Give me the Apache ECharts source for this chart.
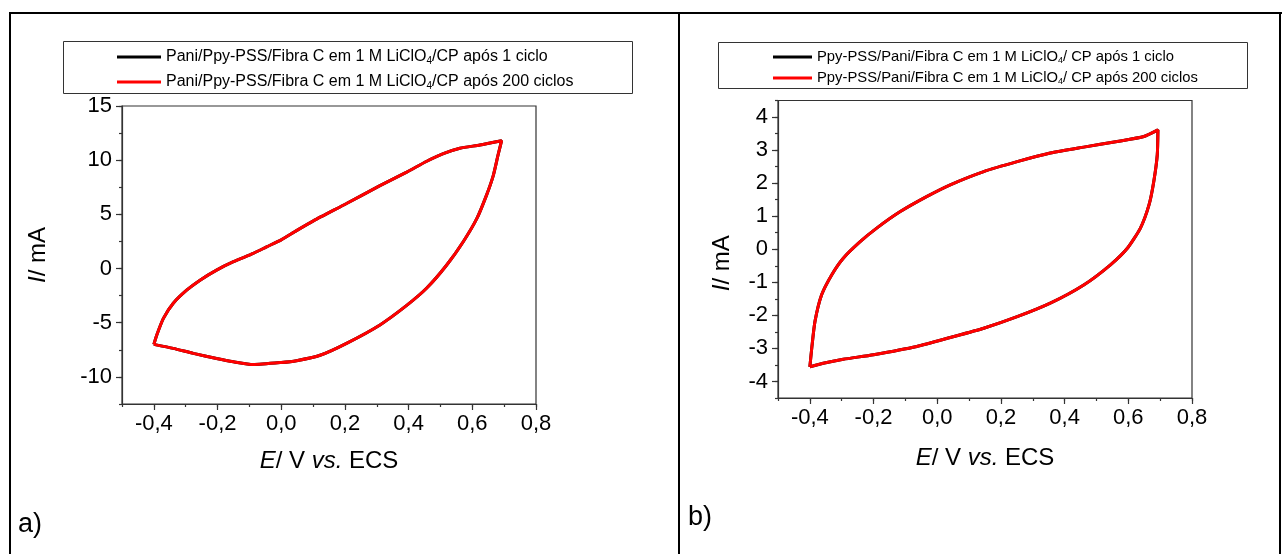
<!DOCTYPE html>
<html>
<head>
<meta charset="utf-8">
<script src="https://cdn.jsdelivr.net/npm/echarts@6/dist/echarts.min.js"></script>
<style>
html,body{margin:0;padding:0;background:#fff;}
#chart{width:1282px;height:554px;}
</style>
</head>
<body>
<div id="chart"></div>
<script>
// ---------- data ----------
// Panel a) Pani/Ppy-PSS/Fibra C : closed CV loop, E in V, I in mA
const aE = [-0.40, -0.391, -0.370, -0.339, -0.297, -0.255, -0.203, -0.150, -0.088, -0.046, 0.000, 0.048, 0.101, 0.205, 0.310, 0.394, 0.457, 0.509, 0.561, 0.624, 0.692,
            0.681, 0.666, 0.645, 0.614, 0.572, 0.519, 0.457, 0.394, 0.310, 0.205, 0.122, 0.048, 0.000, -0.088, -0.150, -0.203, -0.276, -0.339, -0.40];
const aI = [-7.0, -6.15, -4.6, -3.2, -2.0, -1.07, -0.14, 0.63, 1.4, 2.0, 2.65, 3.5, 4.4, 6.0, 7.65, 8.9, 9.9, 10.6, 11.1, 11.4, 11.8,
            10.5, 8.6, 6.8, 4.6, 2.5, 0.3, -1.8, -3.4, -5.2, -6.9, -8.0, -8.5, -8.67, -8.86, -8.6, -8.3, -7.83, -7.37, -7.0];
// Panel b) Ppy-PSS/Pani/Fibra C
const bE = [-0.40, -0.394, -0.384, -0.363, -0.331, -0.295, -0.242, -0.190, -0.116, -0.032, 0.041, 0.146, 0.251, 0.355, 0.460, 0.565, 0.649, 0.693,
            0.691, 0.680, 0.665, 0.638, 0.597, 0.544, 0.460, 0.355, 0.251, 0.146, 0.041, -0.064, -0.200, -0.295, -0.358, -0.40];
const bI = [-3.56, -2.99, -2.19, -1.38, -0.77, -0.27, 0.23, 0.64, 1.14, 1.6, 1.95, 2.35, 2.65, 2.91, 3.09, 3.26, 3.41, 3.61,
            2.86, 2.05, 1.34, 0.64, 0.03, -0.47, -1.08, -1.63, -2.04, -2.39, -2.67, -2.94, -3.19, -3.33, -3.45, -3.56];

const seriesNamesA = ['Pani/Ppy-PSS/Fibra C em 1 M LiClO4/CP após 1 ciclo', 'Pani/Ppy-PSS/Fibra C em 1 M LiClO4/CP após 200 ciclos'];
const seriesNamesB = ['Ppy-PSS/Pani/Fibra C em 1 M LiClO4/ CP após 1 ciclo', 'Ppy-PSS/Pani/Fibra C em 1 M LiClO4/ CP após 200 ciclos'];

const xTickLabels = [-0.4, -0.2, 0.0, 0.2, 0.4, 0.6, 0.8];
const yTickLabelsA = [-10, -5, 0, 5, 10, 15];
const yTickLabelsB = [-4, -3, -2, -1, 0, 1, 2, 3, 4];
const panelLabels = ['a)', 'b)'];

// ---------- styling / layout ----------
const FONT = '"Liberation Sans", Arial, Helvetica, sans-serif';
const AXC = '#333';
const zip = (xs, ys) => xs.map((x, i) => [x, ys[i]]);
const fmtX = v => (Math.abs(v) < 1e-9 ? 0 : v).toFixed(1).replace('.', ',');

const gridA = {left: 122, top: 106, width: 414, height: 298};
const gridB = {left: 778, top: 100.5, width: 414, height: 297.5};

function gridOf(r, show) {
  return Object.assign({show: show, borderColor: AXC, borderWidth: 1.2, backgroundColor: 'transparent', containLabel: false, outerBoundsMode: 'none'}, r);
}
function mainX(g, nameGap) {
  return {
    type: 'value', gridIndex: g, min: -0.5, max: 0.8, interval: 0.1, position: 'bottom',
    axisLine: {show: true, onZero: false, lineStyle: {color: AXC, width: 1.2}},
    axisTick: {show: true, length: 3, lineStyle: {color: AXC, width: 1.2}},
    axisLabel: {customValues: xTickLabels, formatter: fmtX, margin: 9, fontSize: 22, color: '#000', fontFamily: FONT},
    splitLine: {show: false},
    name: '{i|E}/ V {i|vs.} ECS', nameLocation: 'middle', nameGap: nameGap,
    nameTextStyle: {fontSize: 24, color: '#000', fontFamily: FONT,
      rich: {i: {fontStyle: 'italic', fontSize: 24, color: '#000', fontFamily: FONT}}}
  };
}
function majorX(g) {
  return {
    type: 'value', gridIndex: g, min: -0.5, max: 0.8, position: 'bottom',
    axisLine: {show: false, onZero: false},
    axisTick: {show: true, length: 6, customValues: xTickLabels, lineStyle: {color: AXC, width: 1.2}},
    axisLabel: {show: false}, splitLine: {show: false}
  };
}
function mainY(g, min, max, interval, labels, nameGap, namePad) {
  return {
    type: 'value', gridIndex: g, min: min, max: max, interval: interval, position: 'left',
    axisLine: {show: true, onZero: false, lineStyle: {color: AXC, width: 1.2}},
    axisTick: {show: true, length: 3, lineStyle: {color: AXC, width: 1.2}},
    axisLabel: {customValues: labels, margin: 10, fontSize: 22, color: '#000', fontFamily: FONT},
    splitLine: {show: false},
    name: '{i|I}/ mA', nameLocation: 'middle', nameGap: nameGap,
    nameTextStyle: {fontSize: 24, color: '#000', fontFamily: FONT, padding: namePad,
      rich: {i: {fontStyle: 'italic', fontSize: 24, color: '#000', fontFamily: FONT}}}
  };
}
function majorY(g, min, max, labels) {
  return {
    type: 'value', gridIndex: g, min: min, max: max, position: 'left',
    axisLine: {show: false, onZero: false},
    axisTick: {show: true, length: 6, customValues: labels, lineStyle: {color: AXC, width: 1.2}},
    axisLabel: {show: false}, splitLine: {show: false}
  };
}
function cv(name, color, xi, yi, E, I) {
  return {
    name: name, type: 'line', xAxisIndex: xi, yAxisIndex: yi,
    data: zip(E, I), showSymbol: false, symbol: 'none', smooth: 0.2,
    lineStyle: {color: color, width: 3}, itemStyle: {color: color},
    emphasis: {disabled: true}, animation: false
  };
}
const legendFmt = n => n.replace('LiClO4', 'LiClO{s|4}');
function legendOf(names, left, top, fs, lh, gap, iw) {
  return {
    data: names, orient: 'vertical', left: left, top: top, padding: 0, itemGap: gap,
    itemWidth: iw, itemHeight: 3, icon: 'rect', selectedMode: false,
    formatter: legendFmt,
    textStyle: {fontSize: fs, lineHeight: lh, color: '#000', fontFamily: FONT,
      rich: {s: {fontSize: Math.round(fs * 0.62), lineHeight: 10, verticalAlign: 'bottom', color: '#000', fontFamily: FONT}}}
  };
}

const chart = echarts.init(document.getElementById('chart'), null, {renderer: 'canvas'});
chart.setOption({
  animation: false,
  backgroundColor: '#fff',
  grid: [gridOf(gridA, true), gridOf(gridA, false), gridOf(gridB, true), gridOf(gridB, false)],
  xAxis: [mainX(0, 45), majorX(1), mainX(2, 48), majorX(3)],
  yAxis: [
    mainY(0, -12.5, 15, 2.5, yTickLabelsA, 72, [0, 0, 0, 0]), majorY(1, -12.5, 15, yTickLabelsA),
    mainY(2, -4.5, 4.5, 0.5, yTickLabelsB, 44, [0, 28, 0, 0]), majorY(3, -4.5, 4.5, yTickLabelsB)
  ],
  legend: [legendOf(seriesNamesA, 117, 48, 16, 18, 7, 44), legendOf(seriesNamesB, 773, 48.5, 14.8, 17, 4, 39)],
  series: [
    cv(seriesNamesA[0], '#000000', 0, 0, aE, aI),
    cv(seriesNamesA[1], '#ff0000', 0, 0, aE, aI),
    cv(seriesNamesB[0], '#000000', 2, 2, bE, bI),
    cv(seriesNamesB[1], '#ff0000', 2, 2, bE, bI)
  ],
  graphic: [
    {type: 'line', silent: true, shape: {x1: 9, y1: 13, x2: 1282, y2: 13}, style: {stroke: '#000', lineWidth: 2}},
    {type: 'line', silent: true, shape: {x1: 10, y1: 12, x2: 10, y2: 554}, style: {stroke: '#000', lineWidth: 2}},
    {type: 'line', silent: true, shape: {x1: 679, y1: 12, x2: 679, y2: 554}, style: {stroke: '#000', lineWidth: 2}},
    {type: 'line', silent: true, shape: {x1: 1280, y1: 12, x2: 1280, y2: 554}, style: {stroke: '#000', lineWidth: 2}},
    {type: 'rect', silent: true, shape: {x: 63.5, y: 41.5, width: 569, height: 52}, style: {fill: 'none', stroke: '#333', lineWidth: 1}},
    {type: 'rect', silent: true, shape: {x: 718.5, y: 42.5, width: 529, height: 46}, style: {fill: 'none', stroke: '#333', lineWidth: 1}},
    {type: 'text', silent: true, left: 18, top: 511, style: {text: panelLabels[0], fontSize: 27, fill: '#000', fontFamily: FONT}},
    {type: 'text', silent: true, left: 688, top: 504, style: {text: panelLabels[1], fontSize: 27, fill: '#000', fontFamily: FONT}}
  ]
});
</script>
</body>
</html>
